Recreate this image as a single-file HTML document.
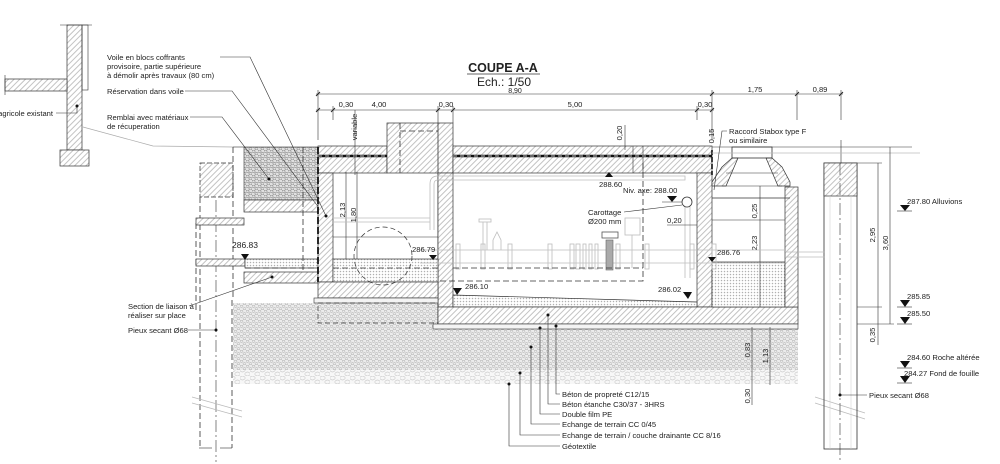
<!DOCTYPE html>
<html><head><meta charset="utf-8"><style>
html,body{margin:0;padding:0;background:#fff;}
svg{display:block;}
text{font-family:"Liberation Sans",sans-serif;fill:#222;font-size:7.6px;}
.o{fill:none;stroke:#333;stroke-width:0.8}
.t{fill:none;stroke:#333;stroke-width:0.6}
.g{fill:none;stroke:#bdbdbd;stroke-width:0.8}
.dash{fill:none;stroke:#333;stroke-width:0.8;stroke-dasharray:6,3}
.dd{fill:none;stroke:#333;stroke-width:0.6;stroke-dasharray:12,3,2,3}
.hz{fill:url(#h);stroke:#333;stroke-width:0.7}
.dz{fill:url(#d);stroke:#333;stroke-width:0.7}
</style></head><body>
<svg width="1000" height="464" viewBox="0 0 1000 464" xmlns="http://www.w3.org/2000/svg">
<defs>
<pattern id="h" width="4" height="4" patternUnits="userSpaceOnUse" patternTransform="rotate(45)"><rect width="4" height="4" fill="#fff"/><line x1="2" y1="-1" x2="2" y2="5" stroke="#9a9a9a" stroke-width="0.6"/></pattern>
<pattern id="d" width="3" height="3" patternUnits="userSpaceOnUse"><rect width="3" height="3" fill="#fff"/><circle cx="1.5" cy="1.5" r="0.75" fill="#b0b0b0"/></pattern>
<pattern id="rb" width="6" height="5" patternUnits="userSpaceOnUse"><rect width="6" height="5" fill="#e0e0e0"/><ellipse cx="1.5" cy="1.25" rx="1.6" ry="1.2" fill="none" stroke="#888" stroke-width="0.55"/><ellipse cx="4.5" cy="3.75" rx="1.6" ry="1.2" fill="none" stroke="#888" stroke-width="0.55"/></pattern>
<pattern id="gf" width="6" height="5" patternUnits="userSpaceOnUse"><rect width="6" height="5" fill="#ececec"/><ellipse cx="1.5" cy="1.25" rx="1.5" ry="1.1" fill="none" stroke="#aaa" stroke-width="0.5"/><ellipse cx="4.5" cy="3.75" rx="1.5" ry="1.1" fill="none" stroke="#aaa" stroke-width="0.5"/></pattern>
<pattern id="gc" width="10" height="8" patternUnits="userSpaceOnUse"><rect width="10" height="8" fill="#f7f7f7"/><ellipse cx="2.5" cy="2" rx="2.6" ry="2" fill="none" stroke="#b5b5b5" stroke-width="0.5"/><ellipse cx="7.5" cy="6" rx="2.6" ry="2" fill="none" stroke="#b5b5b5" stroke-width="0.5"/></pattern>
</defs>

<!-- Title -->
<text x="503" y="72" text-anchor="middle" style="font-size:12.5px;font-weight:bold">COUPE A-A</text>
<line x1="467" y1="74" x2="540" y2="74" stroke="#999" stroke-width="1.5"/>
<text x="504" y="86" text-anchor="middle" style="font-size:12px">Ech.: 1/50</text>

<!-- Top dims -->
<g class="t">
<line x1="316" y1="94" x2="843" y2="94"/>
<line x1="316" y1="110" x2="714" y2="110"/>
<line x1="318" y1="90" x2="318" y2="140"/>
<line x1="712" y1="90" x2="712" y2="140"/>
<line x1="333" y1="106" x2="333" y2="120"/>
<line x1="438" y1="106" x2="438" y2="123"/>
<line x1="453" y1="106" x2="453" y2="123"/>
<line x1="697" y1="106" x2="697" y2="120"/>
<line x1="797" y1="90" x2="797" y2="120"/>
<line x1="841" y1="90" x2="841" y2="120"/>
<line x1="841" y1="140" x2="841" y2="163"/>
</g>
<g stroke="#222" stroke-width="0.9">
<line x1="316" y1="96" x2="320" y2="92"/><line x1="710" y1="96" x2="714" y2="92"/><line x1="795" y1="96" x2="799" y2="92"/><line x1="839" y1="96" x2="843" y2="92"/>
<line x1="316" y1="112" x2="320" y2="108"/><line x1="331" y1="112" x2="335" y2="108"/><line x1="436" y1="112" x2="440" y2="108"/><line x1="451" y1="112" x2="455" y2="108"/><line x1="695" y1="112" x2="699" y2="108"/><line x1="710" y1="112" x2="714" y2="108"/>
</g>
<text x="515" y="93" text-anchor="middle" style="font-size:7px">8,90</text>
<text x="346" y="107" text-anchor="middle">0,30</text>
<text x="379" y="107" text-anchor="middle">4,00</text>
<text x="446" y="107" text-anchor="middle">0,30</text>
<text x="575" y="107" text-anchor="middle">5,00</text>
<text x="705" y="107" text-anchor="middle">0,30</text>
<text x="755" y="92" text-anchor="middle">1,75</text>
<text x="820" y="92" text-anchor="middle">0,89</text>

<!-- Existing building top-left -->
<rect x="67" y="25" width="15" height="125" class="hz"/>
<rect x="82" y="25" width="6" height="65" class="t" fill="#fff"/>
<rect x="5" y="79" width="62" height="12" class="hz"/>
<rect x="60" y="150" width="29" height="16" class="hz"/>
<line x1="60" y1="25" x2="92" y2="25" class="t"/>
<line x1="5" y1="75" x2="5" y2="95" class="t"/>
<polyline points="83,127 153,146 233,147" fill="none" stroke="#aaa" stroke-width="0.7"/>
<text x="53" y="116" text-anchor="end">agricole existant</text>
<polyline points="56,113 77,113 77,106" class="t"/><circle cx="77" cy="106" r="1.5" fill="#111"/>

<!-- Gravel -->
<rect x="233" y="303" width="565" height="67" fill="url(#gf)"/>
<rect x="233" y="370" width="565" height="14" fill="url(#gc)"/>

<!-- Left side: remblai etc -->
<rect x="244" y="147" width="74" height="53" fill="url(#rb)" stroke="#333" stroke-width="0.6"/>
<rect x="244" y="200" width="74" height="12" class="hz"/>
<rect x="200" y="163" width="33" height="34" fill="url(#h)" stroke="#333" stroke-width="0.7" stroke-dasharray="5,2"/>
<line x1="233" y1="147" x2="233" y2="300" class="dash"/>
<line x1="200" y1="197" x2="200" y2="448" class="dash"/>
<line x1="232" y1="300" x2="232" y2="448" class="dash"/>
<line x1="216" y1="200" x2="216" y2="462" class="dd"/>
<line x1="199" y1="448" x2="212" y2="448" class="t"/><line x1="220" y1="448" x2="232" y2="448" class="t"/>
<line x1="196" y1="223" x2="196" y2="310" class="dash"/>
<line x1="233" y1="147" x2="244" y2="147" class="t"/>
<rect x="196" y="218" width="48" height="7" class="hz"/>
<rect x="196" y="259" width="49" height="7" class="hz"/>
<rect x="245" y="259" width="73" height="9" class="dz"/>
<rect x="244" y="272" width="74" height="11" class="hz"/>
<line x1="245" y1="268" x2="438" y2="268" class="dash"/>
<line x1="303" y1="147" x2="303" y2="270" class="dash"/>
<g stroke="#bbb" stroke-width="0.7"><line x1="192" y1="397" x2="242" y2="411"/><line x1="192" y1="403" x2="242" y2="417"/><line x1="815" y1="397" x2="865" y2="413"/><line x1="815" y1="403" x2="865" y2="419"/></g>

<!-- Main structure -->
<rect x="318" y="146" width="69" height="27" class="hz"/>
<rect x="387" y="123" width="66" height="50" class="hz"/>
<rect x="453" y="146" width="259" height="27" class="hz"/>
<line x1="400" y1="123" x2="400" y2="173" class="dash"/>
<line x1="400" y1="131" x2="438" y2="131" class="dash"/>
<line x1="438" y1="123" x2="438" y2="323" class="o"/>
<rect x="438" y="173" width="15" height="134" class="hz"/>
<rect x="318" y="173" width="15" height="109" class="hz"/>
<rect x="697" y="173" width="15" height="134" class="hz"/>
<line x1="633" y1="146" x2="633" y2="173" class="t"/><line x1="643" y1="146" x2="643" y2="173" class="t"/>
<g>
<line x1="318" y1="156" x2="387" y2="156" stroke="#111" stroke-width="2.6"/>
<line x1="453" y1="156" x2="712" y2="156" stroke="#111" stroke-width="2.6"/>
<line x1="318" y1="156" x2="387" y2="156" stroke="#fff" stroke-width="0.8" stroke-dasharray="4,3"/>
<line x1="453" y1="156" x2="712" y2="156" stroke="#fff" stroke-width="0.8" stroke-dasharray="4,3"/>
</g>
<line x1="318" y1="147" x2="318" y2="282" stroke="#111" stroke-width="1.8" stroke-dasharray="7,3"/>
<line x1="712" y1="150" x2="712" y2="175" stroke="#111" stroke-width="1.6" stroke-dasharray="5,2"/>

<!-- left chamber -->
<rect x="333" y="259" width="105" height="23" class="dz"/>
<line x1="333" y1="268" x2="438" y2="268" class="dash"/>
<line x1="333" y1="237" x2="438" y2="237" class="t"/>
<rect x="318" y="282" width="120" height="16" class="hz"/>
<rect x="314" y="298" width="124" height="5" fill="#f4f4f4" stroke="#333" stroke-width="0.6"/>
<rect x="318" y="303" width="120" height="20" fill="none" stroke="#333" stroke-width="0.7" stroke-dasharray="5,3"/>
<circle cx="383" cy="256" r="29" fill="none" stroke="#333" stroke-width="0.7" stroke-dasharray="5,3"/>
<line x1="346" y1="172" x2="346" y2="259" class="t"/>
<line x1="357" y1="172" x2="357" y2="259" class="t"/>
<line x1="355" y1="110" x2="355" y2="175" class="t"/>
<text transform="translate(345,210) rotate(-90)" text-anchor="middle">2,13</text>
<text transform="translate(356,215) rotate(-90)" text-anchor="middle">1,80</text>
<text transform="translate(357,127) rotate(-90)" text-anchor="middle">variable</text>

<!-- main chamber floor -->
<polygon points="453,295 697,302 697,307 453,307" class="dz"/>
<rect x="438" y="307" width="360" height="17" class="hz"/>
<rect x="433" y="324" width="365" height="5" fill="#f4f4f4" stroke="#333" stroke-width="0.6"/>

<!-- Manhole -->
<rect x="712" y="262" width="73" height="45" class="dz"/>
<rect x="785" y="187" width="13" height="120" class="hz"/>
<line x1="712" y1="198" x2="790" y2="198" class="o"/>
<line x1="712" y1="220" x2="785" y2="220" class="t"/>
<polygon points="732,158 738,158 726,186 712,186 712,182 722,167" class="hz"/>
<polygon points="766,158 772,158 782,167 790,182 790,186 778,186" class="hz"/>
<rect x="732" y="147" width="40" height="11" fill="#fff" class="o"/>
<line x1="726" y1="173" x2="778" y2="173" class="t"/>
<line x1="722" y1="186" x2="782" y2="186" class="t"/>
<line x1="712" y1="147" x2="912" y2="147" class="t"/>
<line x1="712" y1="153" x2="920" y2="153" stroke="#bbb" stroke-width="0.7"/>
<line x1="760" y1="186" x2="760" y2="307" class="t"/>
<text transform="translate(757,211) rotate(-90)" text-anchor="middle">0,25</text>
<text transform="translate(757,243) rotate(-90)" text-anchor="middle">2,23</text>
<text transform="translate(714,136) rotate(-90)" text-anchor="middle">0,15</text>
<text transform="translate(622,133) rotate(-90)" text-anchor="middle">0,20</text>
<line x1="625" y1="125" x2="625" y2="150" class="t"/>
<text x="729" y="134">Raccord Stabox type F</text>
<text x="729" y="143">ou similaire</text>
<polyline points="727,131 722,131 714,190" class="t"/>

<!-- Right pile -->
<rect x="824" y="163" width="33" height="286" fill="#fff" class="o"/>
<rect x="824" y="163" width="33" height="33" class="hz"/>
<line x1="830" y1="196" x2="830" y2="449" stroke="#ccc" stroke-width="0.5"/>
<line x1="851" y1="196" x2="851" y2="449" stroke="#ccc" stroke-width="0.5"/>
<line x1="840" y1="163" x2="840" y2="462" class="dd"/>
<g class="t">
<line x1="857" y1="163" x2="882" y2="163"/>
<line x1="857" y1="307" x2="882" y2="307"/>
<line x1="857" y1="324" x2="894" y2="324"/>
<line x1="878" y1="163" x2="878" y2="345"/>
<line x1="890" y1="147" x2="890" y2="324"/>
<line x1="752" y1="327" x2="752" y2="405"/>
<line x1="770" y1="327" x2="770" y2="385"/>
</g>
<text transform="translate(875,235) rotate(-90)" text-anchor="middle">2,95</text>
<text transform="translate(888,243) rotate(-90)" text-anchor="middle">3,60</text>
<text transform="translate(875,335) rotate(-90)" text-anchor="middle">0,35</text>
<text transform="translate(750,350) rotate(-90)" text-anchor="middle">0,83</text>
<text transform="translate(768,356) rotate(-90)" text-anchor="middle">1,13</text>
<text transform="translate(750,396) rotate(-90)" text-anchor="middle">0,30</text>

<!-- Elevation markers right -->
<g fill="#111">
<polygon points="900,205 910,205 905,211"/><polygon points="900,300 910,300 905,307"/><polygon points="900,317 910,317 905,324"/><polygon points="900,361 910,361 905,368"/><polygon points="900,376 910,376 905,383"/>
</g>
<g class="t"><line x1="897" y1="211" x2="912" y2="211"/><line x1="897" y1="307" x2="912" y2="307"/><line x1="897" y1="324" x2="912" y2="324"/><line x1="897" y1="368" x2="912" y2="368"/><line x1="897" y1="383" x2="912" y2="383"/></g>
<text x="907" y="204">287.80 Alluvions</text>
<text x="907" y="299">285.85</text>
<text x="907" y="316">285.50</text>
<text x="907" y="360">284.60 Roche altérée</text>
<text x="904" y="376">284.27 Fond de fouille</text>
<text x="869" y="398">Pieux secant Ø68</text>
<line x1="840" y1="395" x2="867" y2="395" class="t"/><circle cx="840" cy="395" r="1.5" fill="#111"/>

<!-- Pipes -->
<g class="g">
<path d="M430,230 V184 Q430,176 438,176 H685 V180 H438 Q434,180 434,184 V230"/>
<line x1="333" y1="218" x2="430" y2="218"/><line x1="333" y1="222" x2="430" y2="222"/>
<line x1="420" y1="250" x2="785" y2="250"/><line x1="420" y1="263" x2="785" y2="263"/>
<line x1="785" y1="252" x2="825" y2="252"/><line x1="785" y1="257" x2="825" y2="257"/>
<rect x="456" y="244" width="4" height="25"/><rect x="481" y="244" width="4" height="25"/><rect x="508" y="244" width="4" height="25"/><rect x="548" y="244" width="4" height="25"/><rect x="570" y="244" width="4" height="25"/><rect x="576" y="244" width="4" height="25"/><rect x="583" y="244" width="3" height="25"/><rect x="589" y="244" width="3" height="25"/><rect x="595" y="244" width="3" height="25"/><rect x="616" y="244" width="4" height="25"/><rect x="645" y="244" width="4" height="25"/><rect x="690" y="244" width="4" height="25"/><rect x="712" y="244" width="4" height="25"/>
<line x1="483" y1="222" x2="483" y2="250"/><line x1="487" y1="222" x2="487" y2="250"/><rect x="479" y="219" width="12" height="3"/>
<path d="M493,250 V240 L497,232 L501,240 V250"/>
<rect x="625" y="218" width="15" height="17"/><line x1="632" y1="235" x2="632" y2="268"/>
<line x1="685" y1="207" x2="685" y2="278"/><line x1="690" y1="207" x2="690" y2="278"/>
</g>
<rect x="602" y="232" width="16" height="6" fill="#fff" stroke="#555" stroke-width="0.8"/>
<rect x="606" y="240" width="7" height="30" fill="#aaa" stroke="#666" stroke-width="0.6"/>
<polyline points="453,268 643,268" class="dash"/>
<polyline points="440,281 643,281 643,160" class="dash"/>

<!-- chamber labels -->
<polygon points="605,177 613,177 609,172" fill="#111"/>
<text x="599" y="187">288.60</text>
<text x="623" y="193">Niv. axe: 288.00</text>
<line x1="662" y1="202" x2="682" y2="202" class="t"/><polygon points="667,196 677,196 672,202" fill="#111"/>
<circle cx="687" cy="202" r="5" fill="#fff" stroke="#333" stroke-width="0.8"/>
<text x="588" y="215">Carottage</text>
<text x="588" y="224">Ø200 mm</text>
<line x1="624" y1="212" x2="682" y2="205" class="t"/>
<text x="667" y="223">0,20</text>
<line x1="667" y1="225" x2="697" y2="225" class="t"/>
<text x="465" y="289">286.10</text>
<polygon points="453,288 462,288 457,295" fill="#111"/>
<text x="658" y="292">286.02</text>
<polygon points="683,292 692,292 688,299" fill="#111"/>
<text x="412" y="252">286.79</text>
<polygon points="429,255 437,255 433,260" fill="#111"/>
<text x="717" y="255">286.76</text>
<polygon points="708,257 716,257 712,262" fill="#111"/>
<text x="232" y="248" style="font-size:8.5px">286.83</text>
<polygon points="241,254 249,254 245,260" fill="#111"/>

<!-- Left labels -->
<text x="107" y="60">Voile en blocs coffrants</text>
<text x="107" y="69">provisoire, partie supérieure</text>
<text x="107" y="78">à démolir après travaux (80 cm)</text>
<text x="107" y="94">Réservation dans voile</text>
<text x="107" y="120">Remblai avec matériaux</text>
<text x="107" y="129">de récuperation</text>
<polyline points="220,57 250,57 326,216" class="t"/><circle cx="326" cy="216" r="1.5" fill="#111"/>
<polyline points="185,91 232,91 319,208" class="t"/>
<polyline points="190,117 222,117 269,179" class="t"/><circle cx="269" cy="179" r="1.5" fill="#111"/>
<text x="128" y="309">Section de liaison à</text>
<text x="128" y="318">réaliser sur place</text>
<polyline points="189,306 272,277" class="t"/><circle cx="272" cy="277" r="1.5" fill="#111"/>
<text x="128" y="333">Pieux secant Ø68</text>
<line x1="188" y1="330" x2="216" y2="330" class="t"/><circle cx="216" cy="330" r="1.5" fill="#111"/>

<!-- Bottom labels -->
<g class="t">
<polyline points="556,326 556,394 560,394"/>
<polyline points="548,315 548,404 560,404"/>
<polyline points="540,328 540,414 560,414"/>
<polyline points="531,347 531,424 560,424"/>
<polyline points="520,373 520,435 560,435"/>
<polyline points="509,384 509,446 560,446"/>
</g>
<g fill="#111"><circle cx="556" cy="326" r="1.5"/><circle cx="548" cy="315" r="1.5"/><circle cx="540" cy="328" r="1.5"/><circle cx="531" cy="347" r="1.5"/><circle cx="520" cy="373" r="1.5"/><circle cx="509" cy="384" r="1.5"/></g>
<text x="562" y="397">Béton de propreté C12/15</text>
<text x="562" y="407">Béton étanche C30/37 - 3HRS</text>
<text x="562" y="417">Double film PE</text>
<text x="562" y="427">Echange de terrain CC 0/45</text>
<text x="562" y="438">Echange de terrain / couche drainante CC 8/16</text>
<text x="562" y="449">Géotextile</text>
</svg>
</body></html>
